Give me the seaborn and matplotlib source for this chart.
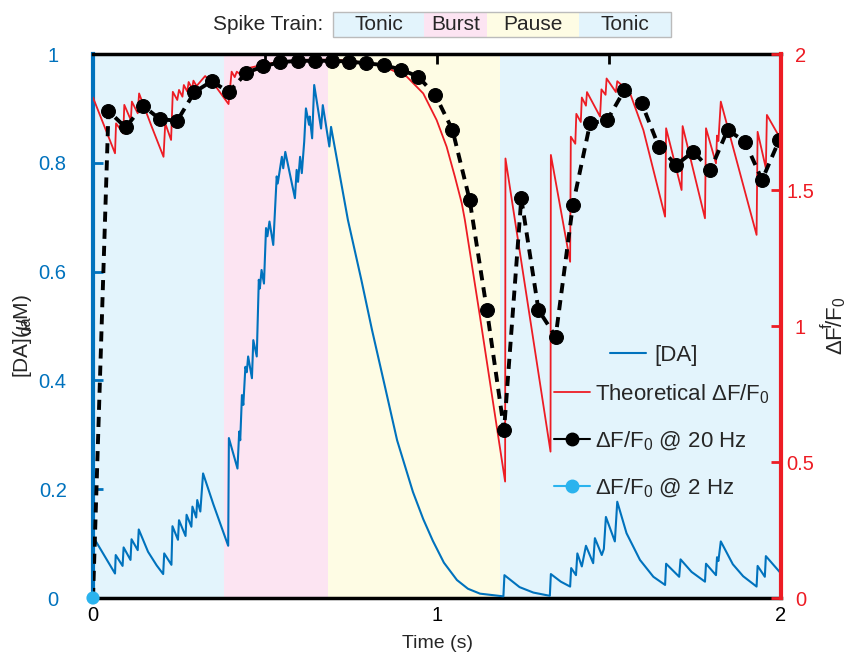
import numpy as np
import pandas as pd
import matplotlib
matplotlib.use("Agg")
import matplotlib.pyplot as plt
import seaborn as sns
from matplotlib.patches import Rectangle
from matplotlib.lines import Line2D

# --- data ---

phase_names = ["Tonic", "Burst", "Pause", "Tonic"]
phase_edges = [0.0, 0.381, 0.683, 1.183, 2.0]

# [DA] (uM), left axis
da_t = [0.000, 0.064, 0.066, 0.086, 0.089, 0.109, 0.112, 0.130, 0.133, 0.160, 0.185, 0.204,
        0.207, 0.228, 0.231, 0.247, 0.250, 0.269, 0.272, 0.286, 0.289, 0.300, 0.303, 0.312,
        0.320, 0.350, 0.393,
        0.395, 0.420, 0.425, 0.428, 0.433, 0.437, 0.443, 0.447, 0.451, 0.462, 0.466, 0.476,
        0.482, 0.485, 0.490, 0.497, 0.503, 0.507, 0.513, 0.524, 0.534, 0.537, 0.549, 0.553,
        0.559, 0.587, 0.592, 0.596, 0.602, 0.607, 0.614, 0.619, 0.628, 0.630, 0.637, 0.643,
        0.663, 0.668, 0.687, 0.692,
        0.741, 0.780, 0.811, 0.850, 0.884, 0.930, 0.960, 0.988, 1.020, 1.058, 1.090, 1.125, 1.193,
        1.196, 1.240, 1.280, 1.328, 1.331, 1.360, 1.387, 1.390, 1.404, 1.408, 1.421, 1.433,
        1.454, 1.459, 1.479, 1.485, 1.491, 1.517, 1.524, 1.551, 1.590, 1.629, 1.663, 1.666,
        1.704, 1.708, 1.740, 1.779, 1.782, 1.811, 1.814, 1.818, 1.825, 1.860, 1.890, 1.929,
        1.932, 1.953, 1.956, 2.000]
da_val = [0.113, 0.045, 0.079, 0.059, 0.093, 0.070, 0.108, 0.088, 0.126, 0.085, 0.060, 0.044,
          0.082, 0.061, 0.132, 0.107, 0.143, 0.114, 0.153, 0.131, 0.168, 0.148, 0.180, 0.159,
          0.229, 0.172, 0.096,
          0.294, 0.238, 0.306, 0.290, 0.373, 0.355, 0.425, 0.415, 0.444, 0.404, 0.474, 0.444,
          0.585, 0.569, 0.603, 0.578, 0.680, 0.665, 0.692, 0.649, 0.775, 0.762, 0.811, 0.790,
          0.820, 0.735, 0.787, 0.765, 0.811, 0.781, 0.839, 0.900, 0.870, 0.885, 0.845, 0.943,
          0.863, 0.906, 0.830, 0.866,
          0.695, 0.585, 0.493, 0.385, 0.290, 0.195, 0.145, 0.105, 0.065, 0.033, 0.017, 0.008, 0.003,
          0.042, 0.020, 0.010, 0.004, 0.044, 0.030, 0.021, 0.055, 0.042, 0.082, 0.058, 0.096,
          0.064, 0.110, 0.079, 0.090, 0.149, 0.104, 0.177, 0.119, 0.070, 0.039, 0.024, 0.063,
          0.039, 0.071, 0.048, 0.030, 0.063, 0.042, 0.075, 0.068, 0.104, 0.062, 0.040, 0.021,
          0.059, 0.039, 0.077, 0.045]

# theoretical dF/F0, right axis
theo_t = [0.000, 0.064, 0.067, 0.088, 0.091, 0.110, 0.113, 0.130, 0.134, 0.170, 0.205, 0.210,
          0.227, 0.232, 0.245, 0.250, 0.260, 0.264, 0.274, 0.278, 0.288, 0.292, 0.301, 0.326,
          0.360, 0.394, 0.403, 0.412, 0.418, 0.428, 0.434, 0.447, 0.500, 0.544, 0.640, 0.737,
          0.834, 0.912, 0.960, 0.999, 1.028, 1.052, 1.072, 1.081, 1.125, 1.198, 1.199, 1.330,
          1.331, 1.387, 1.389, 1.402, 1.405, 1.418, 1.421, 1.433, 1.436, 1.474, 1.478, 1.490,
          1.493, 1.520, 1.524, 1.560, 1.600, 1.663, 1.666, 1.711, 1.714, 1.779, 1.782, 1.811,
          1.814, 1.818, 1.825, 1.929, 1.932, 1.956, 1.959, 1.995]
theo_val = [1.840, 1.635, 1.745, 1.708, 1.813, 1.757, 1.825, 1.782, 1.855, 1.735, 1.622, 1.745,
            1.684, 1.861, 1.831, 1.868, 1.843, 1.886, 1.862, 1.897, 1.873, 1.902, 1.882, 1.919,
            1.875, 1.816, 1.935, 1.915, 1.935, 1.925, 1.945, 1.947, 1.962, 1.972, 1.980, 1.977,
            1.960, 1.917, 1.855, 1.757, 1.659, 1.549, 1.451, 1.390, 1.034, 0.428, 1.616, 0.538,
            1.629, 1.236, 1.696, 1.670, 1.780, 1.750, 1.840, 1.810, 1.860, 1.770, 1.870, 1.850,
            1.910, 1.860, 1.900, 1.860, 1.720, 1.402, 1.727, 1.500, 1.735, 1.396, 1.727, 1.598,
            1.700, 1.680, 1.825, 1.335, 1.714, 1.580, 1.776, 1.696]

# dF/F0 sampled at 20 Hz, right axis
hz20_t = [0.000, 0.045, 0.095, 0.145, 0.195, 0.245, 0.295, 0.345, 0.395, 0.445, 0.495, 0.545,
          0.595, 0.645, 0.695, 0.745, 0.795, 0.845, 0.895, 0.945, 0.995, 1.045, 1.095, 1.145,
          1.195, 1.245, 1.295, 1.345, 1.395, 1.445, 1.495, 1.545, 1.595, 1.645, 1.695, 1.745,
          1.795, 1.845, 1.895, 1.945, 1.995]
hz20_val = [0.000, 1.790, 1.730, 1.810, 1.760, 1.755, 1.860, 1.900, 1.860, 1.930, 1.955, 1.970,
            1.975, 1.975, 1.975, 1.972, 1.966, 1.959, 1.943, 1.917, 1.849, 1.721, 1.463, 1.059,
            0.618, 1.469, 1.059, 0.961, 1.445, 1.745, 1.757, 1.868, 1.819, 1.659, 1.592, 1.641,
            1.574, 1.721, 1.678, 1.537, 1.684]

# dF/F0 sampled at 2 Hz, right axis
hz2_t = [0.0]
hz2_val = [0.0]

# --- styling ---
DA_BLUE = "#0072BD"
RED = "#ED1C24"
CYAN = "#2AB3EE"
phase_colors = ["#E3F4FC", "#FCE4F2", "#FEFCE4", "#E3F4FC"]

sns.set_theme(style="white")
plt.rcParams['font.family'] = ['Liberation Sans', 'DejaVu Sans']
plt.rcParams['mathtext.fontset'] = 'custom'
plt.rcParams['mathtext.rm'] = 'Liberation Sans'
plt.rcParams['mathtext.it'] = 'Liberation Sans:italic'
plt.rcParams['mathtext.bf'] = 'Liberation Sans:bold'

W, H = 848, 656
fig = plt.figure(figsize=(W / 100, H / 100), dpi=100)
ax = fig.add_axes([93 / W, 58 / H, 688 / W, 544 / H])
ax2 = ax.twinx()

# background phases
for i in range(len(phase_names)):
    ax.axvspan(phase_edges[i], phase_edges[i + 1], color=phase_colors[i], lw=0, zorder=0)

df_da = pd.DataFrame({"t": da_t, "da": da_val})
df_theo = pd.DataFrame({"t": theo_t, "f": theo_val})
df_20 = pd.DataFrame({"t": hz20_t, "f": hz20_val})

sns.lineplot(data=df_da, x="t", y="da", ax=ax, estimator=None, sort=False,
             color=DA_BLUE, lw=1.5, zorder=3)
sns.lineplot(data=df_theo, x="t", y="f", ax=ax2, estimator=None, sort=False,
             color=RED, lw=1.3, zorder=3)
sns.lineplot(data=df_20, x="t", y="f", ax=ax2, estimator=None, sort=False,
             color="black", lw=2.8, linestyle="--", marker="o", markersize=10,
             markeredgecolor="black", markevery=list(range(1, len(hz20_t))), zorder=4)
ax2.lines[-1].set_dashes([2.6, 1.8])
ax2.scatter(hz2_t, hz2_val, s=90, color=CYAN, edgecolor="none", zorder=6, clip_on=False)

ax.set_xlim(0, 2)
ax.set_ylim(0, 1)
ax2.set_ylim(0, 2)

# ticks
ax.set_xticks([0, 0.5, 1, 1.5, 2])
ax.set_xticklabels(["0", "", "1", "", "2"])
ax.set_yticks([0, 0.2, 0.4, 0.6, 0.8, 1])
ax.set_yticklabels(["0", "0.2", "0.4", "0.6", "0.8", "1"])
ax2.set_yticks([0, 0.5, 1, 1.5, 2])
ax2.set_yticklabels(["0", "0.5", "1", "1.5", "2"])

ax.tick_params(axis="x", direction="in", length=7, width=2, color="black",
               labelsize=14.5, pad=6, top=True, labelcolor="black")
ax.tick_params(axis="y", direction="in", length=7, width=2, color=DA_BLUE,
               labelsize=14.5, pad=29, labelcolor=DA_BLUE, left=True)
ax2.tick_params(axis="y", direction="in", length=7, width=2, color=RED,
                labelsize=14.5, pad=14, labelcolor=RED, right=True)
for lab in ax.get_yticklabels():
    lab.set_horizontalalignment("center")
for lab in ax2.get_yticklabels():
    lab.set_horizontalalignment("center")

# spines
for s in ["top", "bottom"]:
    ax.spines[s].set_color("black")
    ax.spines[s].set_linewidth(2.5)
ax.spines["left"].set_color(DA_BLUE)
ax.spines["left"].set_linewidth(3)
ax.spines["right"].set_visible(False)
for s in ["top", "bottom", "left"]:
    ax2.spines[s].set_visible(False)
ax2.spines["right"].set_color(RED)
ax2.spines["right"].set_linewidth(3)
ax2.spines["right"].set_zorder(5)

ax.set_xlabel("Time (s)", fontsize=14)
ax.xaxis.set_label_coords(0.5, -0.068)
fig.text(22 / W, 1 - 336 / H, "[DA]($\\mu$M)", rotation=90, ha="center", va="center",
         fontsize=15)
fig.text(836 / W, 1 - 326 / H, "$\\Delta$F/F$_0$", rotation=90, ha="center", va="center",
         fontsize=16)

# legends
h_da = Line2D([], [], color=DA_BLUE, lw=1.5)
h_theo = Line2D([], [], color=RED, lw=1.3)
h_20 = Line2D([], [], color="black", lw=1.5, marker="o", markersize=9)
h_2 = Line2D([], [], color=CYAN, lw=1.5, marker="o", markersize=9)
leg1 = ax2.legend([h_da], ["[DA]"], loc="upper left", bbox_to_anchor=(599 / W, 1 - 334 / H),
                  bbox_transform=fig.transFigure, frameon=False, fontsize=16,
                  borderpad=0, handlelength=1.6, handletextpad=0.4)
ax2.add_artist(leg1)
ax2.legend([h_theo, h_20, h_2],
           ["Theoretical $\\Delta$F/F$_0$", "$\\Delta$F/F$_0$ @ 20 Hz", "$\\Delta$F/F$_0$ @ 2 Hz"],
           loc="upper left", bbox_to_anchor=(543 / W, 1 - 371 / H),
           bbox_transform=fig.transFigure, frameon=False, fontsize=16,
           borderpad=0, handlelength=1.6, handletextpad=0.25, labelspacing=1.07)

# spike train strip on top
box_px = [332.7, 424.3, 486.7, 579.0, 670.7]
y0, y1 = 37.3, 11.7
for i, name in enumerate(phase_names):
    fig.patches.append(Rectangle((box_px[i] / W, 1 - y0 / H), (box_px[i + 1] - box_px[i]) / W,
                                 (y0 - y1) / H, transform=fig.transFigure,
                                 facecolor=phase_colors[i], edgecolor="none"))
    fig.text((box_px[i] + box_px[i + 1]) / 2 / W, 1 - 25 / H, name, ha="center",
             va="center", fontsize=15)
fig.patches.append(Rectangle((box_px[0] / W, 1 - y0 / H), (box_px[-1] - box_px[0]) / W,
                             (y0 - y1) / H, transform=fig.transFigure,
                             facecolor="none", edgecolor="#BBBBBB", lw=1))
fig.text(323 / W, 1 - 25 / H, "Spike Train:", ha="right", va="center", fontsize=15)

fig.savefig("out.png", dpi=100)
